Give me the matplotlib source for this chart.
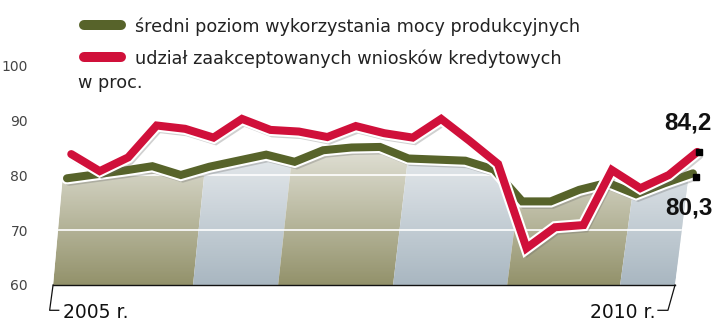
import matplotlib.pyplot as plt
import matplotlib.patheffects as pe
from matplotlib.patches import Polygon
from matplotlib.lines import Line2D
import numpy as np

plt.rcParams['font.family'] = ['DejaVu Sans']

# kwartały 2005 - 2010
kwartaly = np.arange(23)
moce = [79.4, 80.1, 80.8, 81.6, 80.0, 81.5, 82.6, 83.7, 82.4, 84.5, 85.0, 85.1,
        83.0, 82.8, 82.6, 81.0, 75.2, 75.2, 77.3, 78.6, 76.5, 78.5, 80.3]
kredyty = [83.8, 80.7, 83.2, 89.0, 88.4, 86.8, 90.2, 88.2, 87.9, 86.9, 88.9, 87.6,
           86.8, 90.2, 86.2, 82.0, 66.7, 70.5, 70.9, 80.9, 77.6, 80.0, 84.2]
etykiety_y = [60, 70, 80, 90, 100]
opisy = ['średni poziom wykorzystania mocy produkcyjnych',
         'udział zaakceptowanych wniosków kredytowych']

zielony = '#57632a'
czerwony = '#d0103a'

fig = plt.figure(figsize=(7.2, 3.26), dpi=100)
ax = fig.add_axes([40 / 720, 41 / 326, 680 / 720, 225 / 326])

# tlo pod zielona linia - skosne pasy
u0, u1 = -0.49, 21.37
pasy = [u0, 4.43, 7.42, 11.46, 15.47, 19.44, u1]
kolory_pasow = ['#93926b', '#a9b7c1']
x_gora = kwartaly - 0.15
obszar = Polygon([(u0, 60)] + list(zip(x_gora, moce)) + [(u1, 60)],
                 closed=True, facecolor='none', edgecolor='none')
ax.add_patch(obszar)


def skos(u):
    return 0.0174 + 0.0097 * (u - u0) / (u1 - u0)


for n in range(len(pasy) - 1):
    a, b = pasy[n], pasy[n + 1]
    pas = Polygon([(a, 60), (b, 60), (b + skos(b) * 35, 95), (a + skos(a) * 35, 95)],
                  closed=True, facecolor=kolory_pasow[n % 2], edgecolor='none')
    ax.add_patch(pas)
    pas.set_clip_path(obszar)

v = np.linspace(60, 90, 200)
grad = np.ones((200, 2, 4))
grad[..., 3] = np.clip(0.029 * (v - 60), 0, 0.9)[:, None]
im = ax.imshow(grad, extent=[u0 - 1, u1 + 2, 60, 90], origin='lower', aspect='auto', zorder=1.5)
im.set_clip_path(obszar)

for poziom in [70, 80]:
    ln, = ax.plot([u0 - 1, u1 + 1], [poziom, poziom], color='white', lw=1.2, zorder=1.6)
    ln.set_clip_path(obszar)

ax.plot([u0, u1], [60, 60], color='#111111', lw=1, clip_on=False, zorder=2)

efekty = [pe.SimpleLineShadow(offset=(1.5, -2.5), shadow_color='#666666', alpha=0.3),
          pe.Stroke(linewidth=8.8, foreground='white'), pe.Normal()]

ax.plot(kwartaly, moce, color=zielony, lw=5.8, solid_capstyle='round', solid_joinstyle='miter',
        path_effects=efekty, clip_on=False, zorder=3)
ax.plot(kwartaly + 0.15, kredyty, color=czerwony, lw=5.8, solid_capstyle='round',
        solid_joinstyle='miter', path_effects=efekty, clip_on=False, zorder=4)

ax.plot(kwartaly[-1] + 0.2, kredyty[-1], 's', color='black', ms=5, zorder=5, clip_on=False)
ax.plot(kwartaly[-1] + 0.1, moce[-1] - 0.6, 's', color='black', ms=5, zorder=5, clip_on=False)

pogrubione = dict(fontsize=17.5, fontweight='bold', family=['Liberation Sans', 'DejaVu Sans'],
                  color='#111111', ha='right', va='baseline', textcoords='offset points')
ax.annotate(f'{kredyty[-1]:.1f}'.replace('.', ','), xy=(kwartaly[-1] + 0.15, kredyty[-1]),
            xytext=(10.5, 15.8), **pogrubione)
ax.annotate(f'{moce[-1]:.1f}'.replace('.', ','), xy=(kwartaly[-1], moce[-1]),
            xytext=(14, -29.5), **pogrubione)

# lata na osi x
ax.plot([u0, u0 - 0.12, u0 + 0.2], [60, 55.4, 55.4], color='#111111', lw=0.9, clip_on=False)
ax.plot([u1, u1 - 0.25, u1 - 0.6], [60, 55.4, 55.4], color='#111111', lw=0.9, clip_on=False)
ax.text(u0 + 0.35, 54.0, '2005 r.', fontsize=13.5, color='#111111', ha='left', va='baseline')
ax.text(u1 - 0.7, 54.0, '2010 r.', fontsize=13.5, color='#111111', ha='right', va='baseline')

ax.set_xlim(-0.949, 22.95)
ax.set_ylim(60, 100.91)
ax.set_yticks(etykiety_y)
ax.set_xticks([])
ax.tick_params(axis='y', length=0, pad=8.6, labelsize=10, labelcolor='#444444')
for s in ax.spines.values():
    s.set_visible(False)
ax.patch.set_visible(False)

# legenda
for y, kolor, opis in zip([25, 57], [zielony, czerwony], opisy):
    fig.add_artist(Line2D([84 / 720, 121 / 720], [1 - y / 326] * 2, lw=7.2, color=kolor,
                          solid_capstyle='round'))
    fig.text(135 / 720, 1 - (y + 7) / 326, opis, fontsize=12.7, color='#222222', va='baseline')
fig.text(78 / 720, 1 - 88 / 326, 'w proc.', fontsize=12.7, color='#222222', va='baseline')

fig.savefig('out.png', dpi=100)
